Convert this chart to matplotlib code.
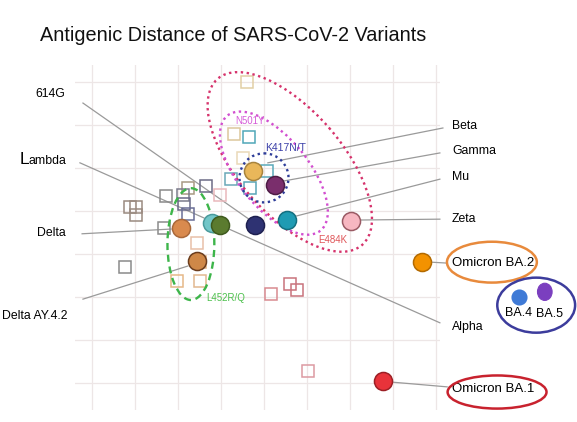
import matplotlib
matplotlib.use("Agg")
import matplotlib.pyplot as plt
from matplotlib.patches import Ellipse

plt.rcParams["font.family"] = ["Liberation Sans", "DejaVu Sans"]

# ---- data in antigenic-map grid units (x right, y down) ----
# filled circles: variants
VAR_NAMES = ["614G", "Lambda", "Alpha", "Delta", "Delta AY.4.2", "Beta", "Gamma",
             "Mu", "Zeta", "Omicron BA.2", "Omicron BA.1", "BA.4", "BA.5"]
VAR_X = [3.79, 2.79, 2.98, 2.07, 2.44, 3.74, 4.26, 4.53, 6.02, 7.67, 6.77, 9.93, 10.53]
VAR_Y = [3.33, 3.28, 3.33, 3.40, 4.16, 2.07, 2.40, 3.21, 3.23, 4.19, 6.95, 5.00, 4.88]
VAR_FILL = ["#2e3272", "#72c6c8", "#5b7b2f", "#d98a4e", "#cf8848", "#e9b75a", "#7a2e6c",
            "#1f9bb3", "#f7b7c1", "#f39200", "#e8333a", "#3f7ad6", "#7b3fbf"]
VAR_EDGE = ["#1e2050", "#4a9a9c", "#3f5a1e", "#a9683a", "#6b3d1e", "#a8843e", "#4e1c45",
            "#146f80", "#9a5a64", "#b36a00", "#9c1f25", "#3f7ad6", "#7b3fbf"]

# open squares: sera / other strains
SQ_X = [3.60, 3.30, 3.65, 3.51, 4.07, 3.23, 3.67, 2.65, 2.23, 1.72, 2.12, 2.14, 0.88,
        1.02, 1.02, 2.23, 1.67, 2.98, 2.44, 0.77, 1.98, 2.51, 2.51, 4.16, 4.60, 4.77, 5.02]
SQ_Y = [0.00, 1.21, 1.28, 1.77, 2.07, 2.26, 2.47, 2.42, 2.47, 2.65, 2.63, 2.84, 2.91,
        2.91, 3.09, 3.07, 3.40, 2.63, 3.74, 4.30, 4.63, 4.63, 4.19, 4.93, 4.70, 4.84, 6.72]
SQ_COL = ["#e2cfa6", "#dcc79c", "#4fa7b8", "#ead9b8", "#5aaabb", "#6aa8b8", "#5aa6b8",
          "#6c6c86", "#a89a84", "#8a8a8a", "#7c7c8c", "#6a6a88", "#9a8a80",
          "#9a8a80", "#9a8a80", "#6a6e96", "#8c8c8c", "#eab8bc", "#e8c0a8", "#8a8a8a",
          "#e6b888", "#e2b890", "#e0b080", "#d88a90", "#c9737c", "#c9737c", "#dd9aa2"]

# label text anchors and leader lines (label end -> point end)
LEFT_LABELS = ["614G", "Lambda", "Delta", "Delta AY.4.2"]
LEFT_TX = [-0.63, -0.60, -0.60, -0.58]
LEFT_TY = [0.28, 1.70, 3.51, 5.44]
LEFT_LX0 = [-0.21, -0.28, -0.23, -0.21]
LEFT_LY0 = [0.49, 1.88, 3.53, 5.05]
LEFT_LX1 = [3.65, 2.60, 1.84, 2.23]
LEFT_LY1 = [3.19, 3.16, 3.42, 4.28]

RIGHT_LABELS = ["Beta", "Gamma", "Mu", "Zeta", "Omicron BA.2", "Alpha", "Omicron BA.1"]
RIGHT_TX = [8.37, 8.37, 8.37, 8.37, 8.37, 8.37, 8.37]
RIGHT_TY = [1.02, 1.60, 2.21, 3.19, 4.21, 5.70, 7.14]
RIGHT_LX0 = [8.16, 8.09, 8.09, 8.09, 8.23, 8.09, 8.26]
RIGHT_LY0 = [1.07, 1.65, 2.26, 3.19, 4.21, 5.60, 7.09]
RIGHT_LX1 = [4.09, 4.47, 4.74, 6.23, 7.88, 3.14, 6.98]
RIGHT_LY1 = [1.88, 2.30, 3.12, 3.21, 4.19, 3.40, 6.98]

# mutation clusters (dotted / dashed ellipses)
CL_NAMES = ["E484K", "N501Y", "K417N/T", "L452R/Q"]
CL_X = [4.60, 4.23, 4.00, 2.30]
CL_Y = [1.86, 2.12, 2.23, 3.77]
CL_W = [5.12, 3.44, 1.14, 1.09]
CL_H = [2.42, 1.63, 1.14, 2.60]
CL_ANG = [49, 51, 0, 0]
CL_COL = ["#d6336c", "#d24fd0", "#2e3d99", "#3db54a"]
CL_TX = [5.60, 3.67, 4.51, 3.10]
CL_TY = [3.68, 0.91, 1.53, 5.03]
CL_TCOL = ["#e0575a", "#d65bd8", "#3b3fa8", "#4cc04c"]
CL_FS = [7, 7, 7.5, 7]

# Omicron rings around labels
RING_X = [9.30, 10.33, 9.42]
RING_Y = [4.19, 5.19, 7.21]
RING_W = [2.09, 1.81, 2.30]
RING_H = [0.95, 1.28, 0.77]
RING_COL = ["#e88a3c", "#3c3c9c", "#c8222e"]

fig = plt.figure(figsize=(5.77, 4.22), dpi=100)
ax = fig.add_axes([75 / 577, 12 / 422, 365 / 577, 345 / 422])
ax.set_xlim(-0.395, 8.093)
ax.set_ylim(7.628, -0.395)
ax.set_xticks(range(0, 9))
ax.set_yticks(range(0, 8))
ax.tick_params(length=0, labelbottom=False, labelleft=False)
for s in ax.spines.values():
    s.set_visible(False)
ax.grid(True, color="#ede6e6", lw=0.9)
ax.set_axisbelow(True)

fig.text(40 / 577, 1 - 41 / 422, "Antigenic Distance of SARS-CoV-2 Variants",
         fontsize=14.3, va="baseline", ha="left", color="#111111")

# leader lines
for i in range(len(LEFT_LABELS)):
    ax.plot([LEFT_LX0[i], LEFT_LX1[i]], [LEFT_LY0[i], LEFT_LY1[i]],
            color="#9a9a9a", lw=0.9, clip_on=False, zorder=2)
for i in range(len(RIGHT_LABELS)):
    ax.plot([RIGHT_LX0[i], RIGHT_LX1[i]], [RIGHT_LY0[i], RIGHT_LY1[i]],
            color="#9a9a9a", lw=0.9, clip_on=False, zorder=2)

# squares
for x, y, c in zip(SQ_X, SQ_Y, SQ_COL):
    ax.plot(x, y, marker="s", ms=8.6, mfc="none", mec=c, mew=1.1, zorder=3)

# clusters
for i in range(len(CL_NAMES)):
    ls = (0, (3, 2)) if CL_NAMES[i] == "L452R/Q" else (0, (1, 1.5))
    ax.add_patch(Ellipse((CL_X[i], CL_Y[i]), CL_W[i], CL_H[i], angle=CL_ANG[i],
                         fill=False, ec=CL_COL[i], lw=1.7, ls=ls, zorder=4))
    ax.text(CL_TX[i], CL_TY[i], CL_NAMES[i], color=CL_TCOL[i], fontsize=CL_FS[i],
            ha="center", va="center", zorder=6)

# variants
for i in range(len(VAR_NAMES)):
    if VAR_NAMES[i] == "BA.5":
        ax.add_patch(Ellipse((VAR_X[i], VAR_Y[i]), 0.34, 0.40, fc=VAR_FILL[i],
                             ec=VAR_EDGE[i], lw=0.8, clip_on=False, zorder=5))
        continue
    ms = 10.5 if VAR_NAMES[i] == "BA.4" else 13
    ax.plot(VAR_X[i], VAR_Y[i], marker="o", ms=ms, mfc=VAR_FILL[i], mec=VAR_EDGE[i],
            mew=1.1, clip_on=False, zorder=5)

# labels ("Lambda" is drawn with an oversized first letter)
ax.text(LEFT_TX[0], LEFT_TY[0], LEFT_LABELS[0], fontsize=8.8, ha="right", va="center")
ax.text(LEFT_TX[1] - 0.86, LEFT_TY[1] + 0.2, "L", fontsize=12.5, ha="right",
        va="baseline")
ax.text(LEFT_TX[1], LEFT_TY[1] + 0.2, "ambda", fontsize=8.8, ha="right", va="baseline")
for i in range(2, len(LEFT_LABELS)):
    ax.text(LEFT_TX[i], LEFT_TY[i], LEFT_LABELS[i], fontsize=8.8, ha="right", va="center")
for i in range(len(RIGHT_LABELS)):
    fs = 9.5 if RIGHT_LABELS[i].startswith("Omicron") else 8.8
    ax.text(RIGHT_TX[i], RIGHT_TY[i], RIGHT_LABELS[i], fontsize=fs, ha="left", va="center")
ax.text(9.93, 5.37, "BA.4", fontsize=9, ha="center", va="center")
ax.text(10.65, 5.40, "BA.5", fontsize=9, ha="center", va="center")

for i in range(len(RING_X)):
    ax.add_patch(Ellipse((RING_X[i], RING_Y[i]), RING_W[i], RING_H[i], fill=False,
                         ec=RING_COL[i], lw=1.8, clip_on=False, zorder=4))

fig.savefig("out.png", dpi=100)
